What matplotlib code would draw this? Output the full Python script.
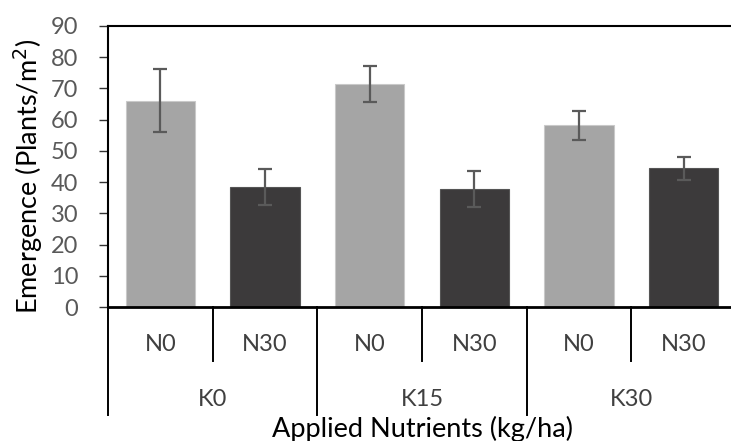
import matplotlib
matplotlib.use("Agg")
import matplotlib.pyplot as plt

plt.rcParams['font.family'] = ['Lato', 'DejaVu Sans']

# data
k_levels = ['K0', 'K15', 'K30']
n_levels = ['N0', 'N30']
emergence = [66.0, 38.5, 71.5, 37.8, 58.2, 44.4]
std_err = [10.1, 5.8, 5.7, 5.9, 4.6, 3.8]

light = '#a5a5a5'
dark = '#3c3a3b'
bar_colors = [light, dark] * len(k_levels)

fig = plt.figure(figsize=(7.31, 4.41), dpi=100)
ax = fig.add_axes([108 / 731, 134 / 441, 628 / 731, 281 / 441])

x = list(range(len(emergence)))
ax.bar(x, emergence, width=0.66, color=bar_colors, edgecolor=['#c9c9c9', '#555555'] * 3,
       linewidth=0.8, zorder=2)
ax.errorbar(x, emergence, yerr=std_err, fmt='none', ecolor='#5a5a5a', elinewidth=1.6,
            capsize=5, capthick=1.6, zorder=3)

ax.set_xlim(-0.5, len(emergence) - 0.5)
ax.set_ylim(0, 90)
ax.set_yticks(range(0, 91, 10))
ax.tick_params(axis='y', labelsize=17, length=6.5, width=1, color='#333333',
               labelcolor='#595959', pad=15)
ax.set_xticks([])

ax.spines['right'].set_visible(False)
ax.spines['top'].set_linewidth(1.5)
ax.spines['left'].set_linewidth(1.5)
ax.spines['bottom'].set_linewidth(2)
for s in ['top', 'left', 'bottom']:
    ax.spines[s].set_color('black')

# hierarchical category axis
trans = ax.get_xaxis_transform()
for i, xi in enumerate(x):
    ax.text(xi, -0.132, n_levels[i % 2], transform=trans, ha='center', va='center',
            fontsize=17, color='#404040')
for j in range(len(k_levels)):
    left = 2 * j - 0.5
    ax.plot([left, left], [0, -0.384], transform=trans, color='black', lw=1.4, clip_on=False)
    ax.plot([left + 1, left + 1], [0, -0.192], transform=trans, color='black', lw=1.4,
            clip_on=False)
    ax.text(left + 1, -0.33, k_levels[j], transform=trans, ha='center', va='center',
            fontsize=17, color='#404040')

fig.text(422 / 731, 4 / 441, 'Applied Nutrients (kg/ha)', ha='center', va='baseline',
         fontsize=19.5, color='black')
fig.text(28 / 731, 1 - 176 / 441, 'Emergence (Plants/m$^2$)', ha='center', va='center',
         rotation=90, fontsize=19.5, color='black')

fig.savefig('out.png', dpi=100)
